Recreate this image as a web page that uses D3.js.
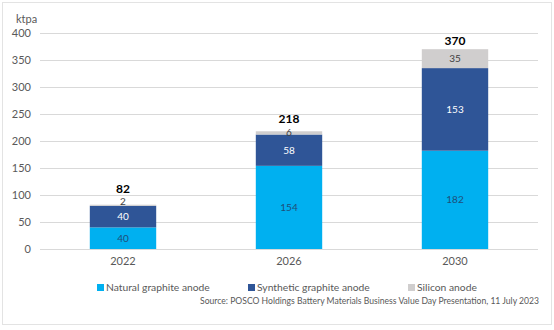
<!DOCTYPE html>
<html>
<head>
<meta charset="utf-8">
<script src="https://cdn.jsdelivr.net/npm/d3@7"></script>
<style>
  body { margin: 0; background: #fff; }
  svg { display: block; font-family: Lato, "Open Sans", sans-serif; }
</style>
</head>
<body>
<div id="chart"></div>
<script>
// capacity by year, ktpa
var years = ["2022", "2026", "2030"];
var natural = [40, 154, 182];
var synthetic = [40, 58, 153];
var silicon = [2, 6, 35];
var totals = [82, 218, 370];
var seriesNames = ["Natural graphite anode", "Synthetic graphite anode", "Silicon anode"];
var yTicks = [0, 50, 100, 150, 200, 250, 300, 350, 400];

var colors = ["#00b0f0", "#2f5597", "#d0cece"];
var labelColors = ["#1f4e79", "#ffffff", "#404040"];

var W = 554, H = 330;
var margin = {top: 33, right: 16, bottom: 81, left: 40};
var width = W - margin.left - margin.right,
    height = H - margin.top - margin.bottom;

var svg = d3.select("#chart")
  .append("svg")
    .attr("width", W)
    .attr("height", H);

// frame
svg.append("rect")
  .attr("x", 2.5).attr("y", 2.5)
  .attr("width", 549).attr("height", 322)
  .attr("fill", "none")
  .attr("stroke", "#e3e3e3");

var g = svg.append("g")
  .attr("transform", "translate(" + margin.left + "," + margin.top + ")");

var x = d3.scaleBand()
  .domain(years)
  .range([0, width])
  .paddingInner(0.6)
  .paddingOuter(0.3);

var y = d3.scaleLinear()
  .domain([0, 400])
  .range([height, 0]);

// gridlines
g.append("g")
  .selectAll("line")
  .data(yTicks)
  .enter().append("line")
    .attr("x1", 0).attr("x2", width)
    .attr("y1", function(d) { return y(d) + 0.5; })
    .attr("y2", function(d) { return y(d) + 0.5; })
    .attr("stroke", "#d9d9d9");

// y axis labels
var yAxis = g.append("g")
  .call(d3.axisLeft(y).tickValues(yTicks).tickSize(0).tickPadding(9));
yAxis.select(".domain").remove();
yAxis.selectAll("text")
  .attr("fill", "#595959")
  .style("font-size", "11px")
  .style("font-family", "Lato, 'Open Sans', sans-serif");

// x axis labels
var xAxis = g.append("g")
  .attr("transform", "translate(0," + height + ")")
  .call(d3.axisBottom(x).tickSize(0).tickPadding(8));
xAxis.select(".domain").remove();
xAxis.selectAll("text")
  .attr("fill", "#595959")
  .style("font-size", "11px")
  .style("font-family", "Lato, 'Open Sans', sans-serif");

svg.append("text")
  .attr("x", 16).attr("y", 23)
  .attr("fill", "#595959")
  .style("font-size", "11px")
  .text("ktpa");

// stacked bars
var table = years.map(function(yr, i) {
  return {year: yr, natural: natural[i], synthetic: synthetic[i], silicon: silicon[i]};
});
var keys = ["natural", "synthetic", "silicon"];
var stacked = d3.stack().keys(keys)(table);

var layers = g.selectAll(".layer")
  .data(stacked)
  .enter().append("g")
    .attr("class", "layer")
    .attr("fill", function(d, i) { return colors[i]; });

layers.selectAll("rect")
  .data(function(d) { return d; })
  .enter().append("rect")
    .attr("x", function(d) { return x(d.data.year); })
    .attr("y", function(d) { return y(d[1]); })
    .attr("width", x.bandwidth())
    .attr("height", function(d) { return y(d[0]) - y(d[1]); });

// segment values
stacked.forEach(function(layer, li) {
  g.append("g").selectAll("text")
    .data(layer)
    .enter().append("text")
      .attr("x", function(d) { return x(d.data.year) + x.bandwidth() / 2; })
      .attr("y", function(d) {
        var mid = y((d[0] + d[1]) / 2);
        // tiny segment label sits just above the bar
        if (d[1] - d[0] < 4) mid = y(d[1]) - 3.5;
        return mid;
      })
      .attr("dy", "0.35em")
      .attr("text-anchor", "middle")
      .attr("fill", labelColors[li])
      .style("font-size", "10px")
      .text(function(d) { return d.data[layer.key]; });
});

// totals, lifted clear of small top segments
function totalGap(i) {
  if (silicon[i] < 4) return 12;
  if (silicon[i] < 10) return 8;
  return 4;
}
g.append("g").selectAll("text")
  .data(years)
  .enter().append("text")
    .attr("x", function(d) { return x(d) + x.bandwidth() / 2; })
    .attr("y", function(d, i) { return y(totals[i]) - totalGap(i); })
    .attr("text-anchor", "middle")
    .attr("fill", "#000")
    .style("font-size", "12px")
    .style("font-weight", "bold")
    .text(function(d, i) { return totals[i]; });

// legend
var legendX = [97, 248, 408];
var legend = svg.append("g").selectAll("g")
  .data(seriesNames)
  .enter().append("g")
    .attr("transform", function(d, i) { return "translate(" + legendX[i] + ",291)"; });
legend.append("rect")
  .attr("x", 0).attr("y", -7)
  .attr("width", 7).attr("height", 7)
  .attr("fill", function(d, i) { return colors[i]; });
legend.append("text")
  .attr("x", 9).attr("y", 0)
  .attr("fill", "#595959")
  .style("font-size", "10.3px")
  .text(function(d) { return d; });

svg.append("text")
  .attr("x", 539).attr("y", 304)
  .attr("text-anchor", "end")
  .attr("fill", "#595959")
  .style("font-size", "8.6px")
  .text("Source: POSCO Holdings Battery Materials Business Value Day Presentation, 11 July 2023");
</script>
</body>
</html>
